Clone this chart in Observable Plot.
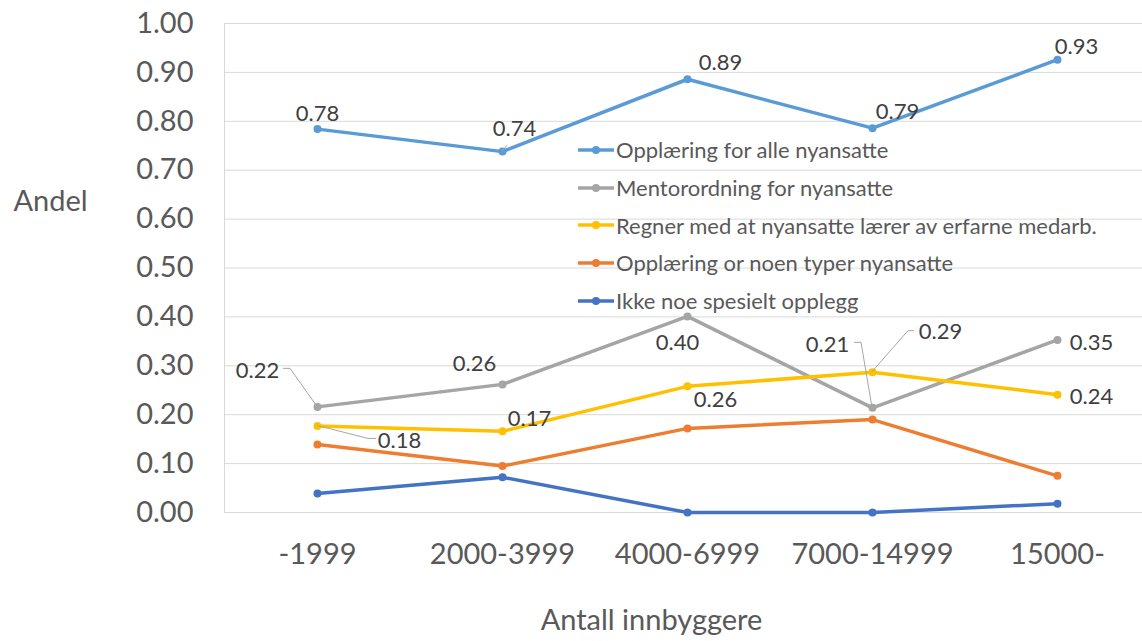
<!DOCTYPE html>
<html>
<head>
<meta charset="utf-8">
<script src="https://cdn.jsdelivr.net/npm/d3@7"></script>
<script src="https://cdn.jsdelivr.net/npm/@observablehq/plot@0.6"></script>
<style>
  html, body { margin: 0; padding: 0; background: #fff; }
  #wrap { position: relative; width: 1142px; height: 641px; font-family: Lato, "Open Sans", sans-serif; }
  #legend { position: absolute; left: 578px; top: 131px; color: #595959; font-size: 22px; }
  #legend .item { display: flex; align-items: center; height: 37.7px; white-space: nowrap; }
  #legend svg { margin-right: 2px; }
</style>
</head>
<body>
<div id="wrap"></div>
<script>
// ---- data ----
const categories = ["-1999", "2000-3999", "4000-6999", "7000-14999", "15000-"];
const seriesNames = [
  "Opplæring for alle nyansatte",
  "Mentorordning for nyansatte",
  "Regner med at nyansatte lærer av erfarne medarb.",
  "Opplæring or noen typer nyansatte",
  "Ikke noe spesielt opplegg"
];
const allNewEmployees = [0.784, 0.738, 0.886, 0.786, 0.926];
const mentorScheme = [0.216, 0.262, 0.401, 0.214, 0.353];
const learnFromExperienced = [0.177, 0.166, 0.258, 0.287, 0.241];
const someTypesOnly = [0.139, 0.095, 0.172, 0.190, 0.075];
const nothingSpecial = [0.039, 0.072, 0.0, 0.0, 0.018];
const seriesValues = [allNewEmployees, mentorScheme, learnFromExperienced, someTypesOnly, nothingSpecial];
const yTicks = [0, 0.1, 0.2, 0.3, 0.4, 0.5, 0.6, 0.7, 0.8, 0.9, 1.0];
const colors = ["#5B9BD5", "#A5A5A5", "#FFC000", "#ED7D31", "#4472C4"];

// data-label placement (pixel offsets from the point) and leader lines
const labelPlacement = [
  {s: 0, i: 0, dx: 0, dy: -15}, {s: 0, i: 1, dx: 12, dy: -23}, {s: 0, i: 2, dx: 33, dy: -16},
  {s: 0, i: 3, dx: 25, dy: -16}, {s: 0, i: 4, dx: 19, dy: -13},
  {s: 1, i: 0, dx: -60, dy: -36}, {s: 1, i: 1, dx: -28, dy: -20}, {s: 1, i: 2, dx: -10, dy: 27},
  {s: 1, i: 3, dx: -45, dy: -63}, {s: 1, i: 4, dx: 34, dy: 3},
  {s: 2, i: 0, dx: 82, dy: 15}, {s: 2, i: 1, dx: 27, dy: -12}, {s: 2, i: 2, dx: 28, dy: 14},
  {s: 2, i: 3, dx: 68, dy: -40}, {s: 2, i: 4, dx: 34, dy: 2}
];
const leaderLines = [
  {s: 1, i: 0, path: [-27, -38, -34, -38]},
  {s: 2, i: 0, path: [51, 13, 59, 13]},
  {s: 1, i: 3, path: [-11, -65, -18, -65]},
  {s: 2, i: 3, path: [36, -41, 42, -41]},
  {s: 0, i: 1, path: [5, -6, 5, -6]}
];

// ---- build table ----
const rows = [];
seriesNames.forEach((name, s) => {
  categories.forEach((cat, i) => rows.push({series: name, cat, value: seriesValues[s][i]}));
});

const marks = [];
marks.push(Plot.ruleY(yTicks, {stroke: "#d9d9d9", strokeWidth: 1}));
// left edge of the plot area
marks.push(function leftEdge(index, scales, values, dimensions) {
  const {marginLeft, marginTop, marginBottom, height} = dimensions;
  const g = d3.create("svg:g");
  g.append("line")
    .attr("x1", marginLeft + 0.5).attr("x2", marginLeft + 0.5)
    .attr("y1", marginTop).attr("y2", height - marginBottom)
    .attr("stroke", "#d9d9d9").attr("stroke-width", 1);
  return g.node();
});

seriesNames.forEach((name) => {
  const d = rows.filter(r => r.series === name);
  marks.push(Plot.line(d, {x: "cat", y: "value", stroke: "series", strokeWidth: 3.5}));
  marks.push(Plot.dot(d, {x: "cat", y: "value", fill: "series", r: 4, stroke: null}));
});

// leader lines (drawn through the plot's scales)
marks.push(function leaders(index, scales) {
  const sx = typeof scales.x === "function" ? scales.x : (v) => scales.scales.x.apply(v);
  const sy = typeof scales.y === "function" ? scales.y : (v) => scales.scales.y.apply(v);
  const g = d3.create("svg:g").attr("fill", "none").attr("stroke", "#a6a6a6").attr("stroke-width", 1);
  for (const L of leaderLines) {
    const px = sx(categories[L.i]), py = sy(seriesValues[L.s][L.i]);
    const p = L.path;
    g.append("path").attr("d", `M${px},${py}L${px + p[0]},${py + p[1]}L${px + p[2]},${py + p[3]}`);
  }
  return g.node();
});

for (const L of labelPlacement) {
  const datum = {cat: categories[L.i], value: seriesValues[L.s][L.i]};
  marks.push(Plot.text([datum], {
    x: "cat", y: "value", text: d => d.value.toFixed(2),
    dx: L.dx, dy: L.dy, fontSize: 22, fill: "#404040"
  }));
}

// axis titles
marks.push(Plot.text(["Andel"], {frameAnchor: "left", dx: -174, dy: -66, fontSize: 29, fill: "#595959", textAnchor: "middle"}));
marks.push(Plot.text(["Antall innbyggere"], {frameAnchor: "bottom", dx: -32, dy: 117, fontSize: 29, fill: "#595959", textAnchor: "middle"}));

const chart = Plot.plot({
  width: 1142,
  height: 641,
  marginLeft: 224,
  marginRight: 0,
  marginTop: 23,
  marginBottom: 129,
  style: {fontFamily: "Lato, 'Open Sans', sans-serif", fontSize: "29px", color: "#595959", background: "#fff"},
  x: {type: "point", domain: categories, range: [316.5, 1056.5], padding: 0, tickSize: 0, tickPadding: 31, label: null},
  y: {domain: [0, 1], ticks: yTicks, tickFormat: d3.format(".2f"), tickSize: 0, tickPadding: 31, label: null},
  color: {domain: seriesNames, range: colors},
  marks
});

const wrap = document.getElementById("wrap");
wrap.appendChild(chart);

// legend (inside plot area)
const legend = document.createElement("div");
legend.id = "legend";
seriesNames.forEach((name, s) => {
  const item = document.createElement("div");
  item.className = "item";
  item.innerHTML = `<svg width="36" height="12"><line x1="0" y1="6" x2="36" y2="6" stroke="${colors[s]}" stroke-width="3.5"/><circle cx="18" cy="6" r="4" fill="${colors[s]}"/></svg><span>${name}</span>`;
  legend.appendChild(item);
});
wrap.appendChild(legend);
</script>
</body>
</html>
